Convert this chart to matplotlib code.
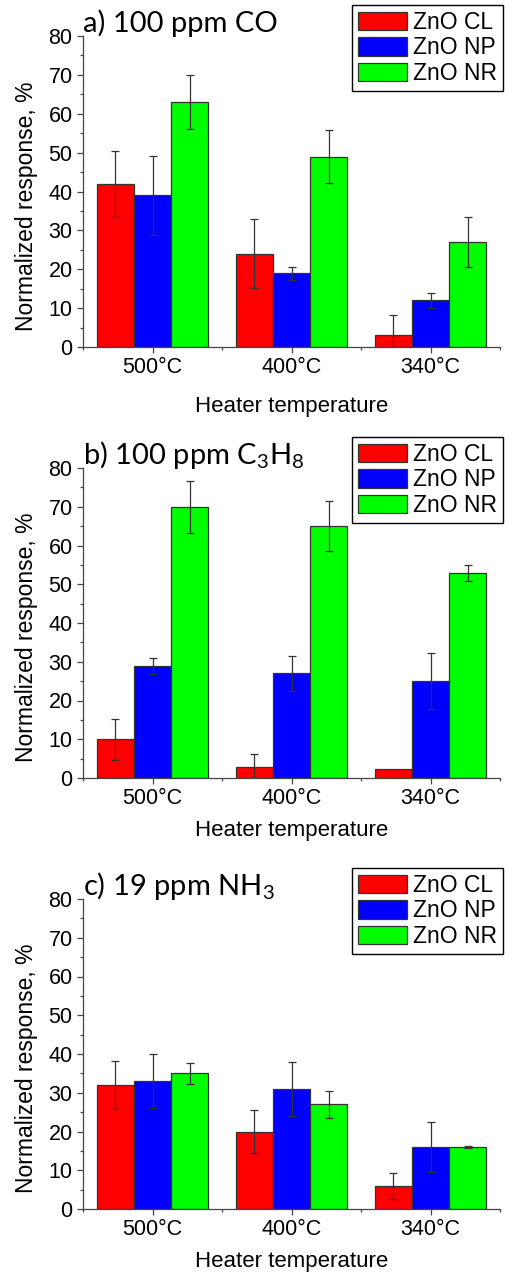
import numpy as np
import matplotlib
matplotlib.use("Agg")
import matplotlib.pyplot as plt
from matplotlib.ticker import MultipleLocator, FixedLocator

plt.rcParams['font.family'] = ['Liberation Sans', 'DejaVu Sans']

temps = ['500°C', '400°C', '340°C']
series = ['ZnO CL', 'ZnO NP', 'ZnO NR']
colors = ['#ff0000', '#0000ff', '#00ff00']

titles = [r'a) 100 ppm CO',
          r'b) 100 ppm C$\mathregular{_3}$H$\mathregular{_8}$',
          r'c) 19 ppm NH$\mathregular{_3}$']

# response values (%) per panel: rows = CL, NP, NR; columns = temperatures
co_vals = [[42, 24, 3], [39, 19, 12], [63, 49, 27]]
co_err = [[8.5, 8.8, 5.2], [10.1, 1.65, 1.95], [6.9, 6.7, 6.5]]
c3h8_vals = [[10, 2.8, 2.4], [29, 27, 25], [70, 65, 53]]
c3h8_err = [[5.3, 3.3, np.nan], [2.05, 4.55, 7.2], [6.7, 6.5, 2.05]]
nh3_vals = [[32, 20, 6], [33, 31, 16], [35, 27, 16]]
nh3_err = [[6.2, 5.65, 3.35], [7.0, 7.05, 6.55], [2.8, 3.5, 0.35]]

panels = [(co_vals, co_err), (c3h8_vals, c3h8_err), (nh3_vals, nh3_err)]

W, H = 508, 1279
fig = plt.figure(figsize=(W / 100, H / 100), dpi=100)

# axes boxes in pixels: (left, top, right, bottom)
boxes = [(83, 36, 500, 347), (83, 468, 500, 778), (83, 899, 500, 1209)]
xlabel_y = [-0.158, -0.135, -0.135]

x = np.arange(1, 4)
bw = 0.8 / 3

for (vals, errs), title, (l, t, r, b), ly in zip(panels, titles, boxes, xlabel_y):
    ax = fig.add_axes([l / W, 1 - b / H, (r - l) / W, (b - t) / H])
    for i in range(3):
        xs = x + (i - 1) * bw
        ax.bar(xs, vals[i], width=bw, color=colors[i], edgecolor='#333333',
               linewidth=0.9, label=series[i], zorder=2)
        ax.errorbar(xs, vals[i], yerr=errs[i], fmt='none', ecolor='#333333',
                    elinewidth=0.9, capsize=3, capthick=0.9, zorder=3)
    ax.set_xlim(0.5, 3.5)
    ax.set_ylim(0, 80)
    ax.spines['top'].set_visible(False)
    ax.spines['right'].set_visible(False)
    for s in ('left', 'bottom'):
        ax.spines[s].set_color('#444444')
        ax.spines[s].set_linewidth(0.9)
    ax.yaxis.set_major_locator(MultipleLocator(10))
    ax.yaxis.set_minor_locator(MultipleLocator(5))
    ax.set_xticks(x)
    ax.set_xticklabels(temps)
    ax.xaxis.set_minor_locator(FixedLocator([0.5, 1.5, 2.5, 3.5]))
    ax.tick_params(which='major', direction='out', length=4, width=0.9,
                   color='#444444', labelsize=15.5, pad=3.5)
    ax.tick_params(which='minor', direction='out', length=2.2, width=0.9,
                   color='#444444')
    ax.set_xlabel('Heater temperature', fontsize=16)
    ax.xaxis.set_label_coords(0.5, ly)
    ax.set_ylabel('Normalized response, %', fontsize=16.5)
    ax.yaxis.set_label_coords(-0.108, 0.453)
    ax.text(0.0, 1.012, title, transform=ax.transAxes, fontsize=21,
            family=['Lato', 'DejaVu Sans'], ha='left', va='baseline')
    leg = ax.legend(loc='upper right', bbox_to_anchor=(1.007, 1.10),
                    fontsize=16.5, frameon=True, fancybox=False,
                    edgecolor='black', framealpha=1, handlelength=2.15,
                    handleheight=0.85, labelspacing=0.12, handletextpad=0.28,
                    borderpad=0.25, borderaxespad=0)
    leg.get_frame().set_linewidth(1.0)

fig.savefig('out.png', dpi=100, facecolor='white')
